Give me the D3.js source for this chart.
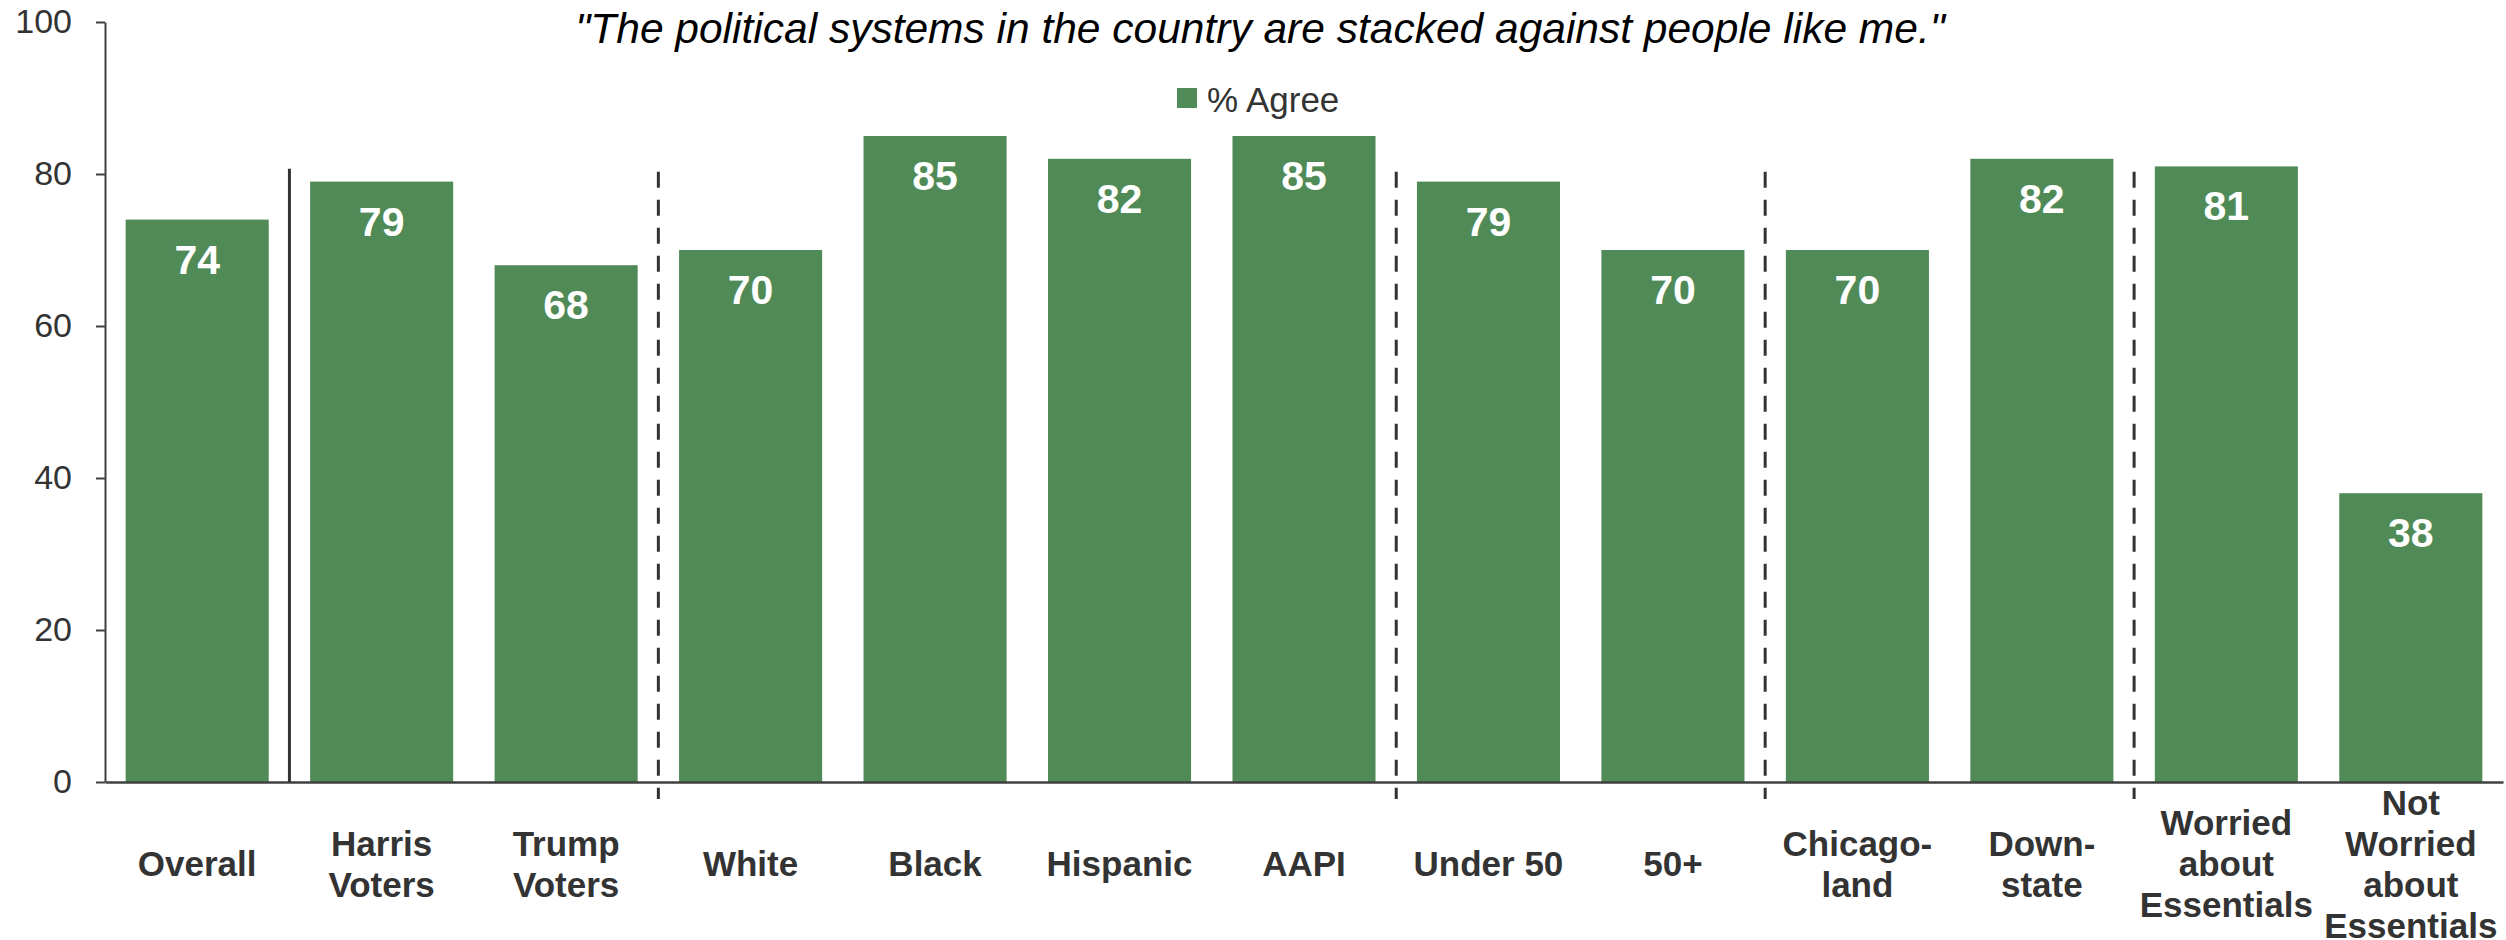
<!DOCTYPE html>
<html>
<head>
<meta charset="utf-8">
<script src="https://cdn.jsdelivr.net/npm/d3@7"></script>
<style>
  html, body { margin: 0; padding: 0; background: #fff; }
  svg { display: block; }
  text { font-family: "Liberation Sans", Arial, sans-serif; }
</style>
</head>
<body>
<svg id="chart" width="2506" height="940"></svg>
<script>
// ---- data ----
const categories = [
  "Overall", "Harris\nVoters", "Trump\nVoters", "White", "Black", "Hispanic", "AAPI",
  "Under 50", "50+", "Chicago-\nland", "Down-\nstate", "Worried\nabout\nEssentials",
  "Not\nWorried\nabout\nEssentials"
];
const agreeValues = [74, 79, 68, 70, 85, 82, 85, 79, 70, 70, 82, 81, 38];
const yTicks = [0, 20, 40, 60, 80, 100];
const seriesName = "% Agree";
const titleText = "\"The political systems in the country are stacked against people like me.\"";
// separators: drawn after the category at this index
const separatorAfter = [0, 2, 6, 8, 10];
const separatorStyle = ["solid", "dashed", "dashed", "dashed", "dashed"];

// ---- layout ----
const svg = d3.select("#chart");
const green = "#508A57";
const axisColor = "#404040";
const textColor = "#333333";

const x = d3.scaleBand()
  .domain(categories)
  .range([105, 2503])
  .paddingInner(0.2245)
  .paddingOuter(0.112);

const y = d3.scaleLinear().domain([0, 100]).range([782, 22]);

// bars
svg.append("g").selectAll("rect")
  .data(agreeValues)
  .join("rect")
  .attr("x", (d, i) => x(categories[i]))
  .attr("y", d => y(d))
  .attr("width", x.bandwidth())
  .attr("height", d => y(0) - y(d))
  .attr("fill", green);

// value labels
svg.append("g").selectAll("text")
  .data(agreeValues)
  .join("text")
  .attr("x", (d, i) => x(categories[i]) + x.bandwidth() / 2)
  .attr("y", d => y(d) + 54)
  .attr("text-anchor", "middle")
  .attr("fill", "#ffffff")
  .style("font-weight", "bold")
  .style("font-size", "41px")
  .text(d => d);

// y axis
const yAxis = svg.append("g")
  .attr("transform", "translate(105,0)")
  .call(d3.axisLeft(y).tickValues(yTicks).tickSize(9).tickSizeOuter(0).tickPadding(24));
yAxis.select(".domain").attr("stroke", axisColor).attr("stroke-width", 2);
yAxis.selectAll(".tick line").attr("stroke", axisColor).attr("stroke-width", 2);
yAxis.selectAll(".tick text")
  .attr("fill", textColor)
  .style("font-size", "34px")
  .style("font-family", "\"Liberation Sans\", Arial, sans-serif");

// x axis
const xAxis = svg.append("g")
  .attr("transform", "translate(0," + y(0) + ")")
  .call(d3.axisBottom(x).tickSize(0).tickSizeOuter(0).tickFormat(""));
xAxis.select(".domain").attr("stroke", axisColor).attr("stroke-width", 2.5);

// x category labels (multi-line)
const lineH = 41;
const labelG = svg.append("g");
categories.forEach(c => {
  const lines = c.split("\n");
  const n = lines.length;
  const t = labelG.append("text")
    .attr("text-anchor", "middle")
    .attr("fill", textColor)
    .style("font-weight", "bold")
    .style("font-size", "35px");
  lines.forEach((ln, k) => {
    t.append("tspan")
      .attr("x", x(c) + x.bandwidth() / 2)
      .attr("y", 876 + (k - (n - 1) / 2) * lineH)
      .text(ln);
  });
});

// separators
const step = x.step();
const gapHalf = step * x.paddingInner() / 2;
svg.append("g").selectAll("line")
  .data(separatorAfter)
  .join("line")
  .attr("x1", d => x(categories[d]) + x.bandwidth() + gapHalf)
  .attr("x2", d => x(categories[d]) + x.bandwidth() + gapHalf)
  .attr("y1", (d, i) => separatorStyle[i] === "solid" ? y(80.7) : y(80.3))
  .attr("y2", (d, i) => separatorStyle[i] === "solid" ? y(0) : y(0) + 17)
  .attr("stroke", "#333333")
  .attr("stroke-width", 3)
  .attr("stroke-dasharray", (d, i) => separatorStyle[i] === "solid" ? null : "16,12");

// title
svg.append("text")
  .attr("x", 1260)
  .attr("y", 43)
  .attr("text-anchor", "middle")
  .attr("fill", "#000")
  .style("font-style", "italic")
  .style("font-size", "42.5px")
  .text(titleText);

// legend
const leg = svg.append("g");
leg.append("rect")
  .attr("x", 1177).attr("y", 88).attr("width", 20).attr("height", 20)
  .attr("fill", green);
leg.append("text")
  .attr("x", 1207).attr("y", 112)
  .attr("fill", textColor)
  .style("font-size", "35px")
  .text(seriesName);
</script>
</body>
</html>
